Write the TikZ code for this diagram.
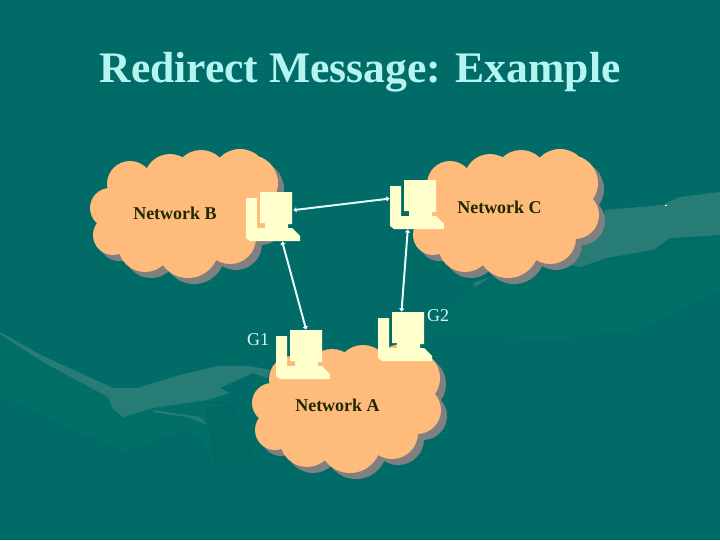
\documentclass[tikz,border=0pt]{standalone}
\usepackage{fontspec}
\setmainfont{Liberation Serif}
\usepackage{xcolor}
\usetikzlibrary{arrows.meta}
\definecolor{slidebg}{HTML}{006A66}
\definecolor{slideline}{HTML}{026D68}
\definecolor{armmid}{HTML}{026E68}
\definecolor{armdark}{HTML}{016864}
\definecolor{handlight}{HTML}{287C76}
\definecolor{cloudfill}{HTML}{FFBB7C}
\definecolor{cloudshade}{HTML}{808080}
\definecolor{pcfill}{HTML}{FFFFCC}
\definecolor{titletext}{HTML}{B4F5F2}
\definecolor{gatetext}{HTML}{D8F8F5}
\definecolor{wirecolor}{HTML}{E8FFFF}
\definecolor{nettext}{HTML}{1C2A00}
\tikzset{
  pcbox/.style={inner sep=0pt, minimum width=1.175cm, minimum height=1.225cm},
  nettag/.style={inner sep=0pt, text=nettext, font=\fontsize{12.8}{14}\selectfont\bfseries},
  gatetag/.style={inner sep=0pt, text=gatetext, font=\fontsize{12.8}{14}\selectfont},
  wire/.style={draw=wirecolor, line width=1.4pt, {Latex[length=0.8mm,width=1.5mm]}-{Latex[length=0.8mm,width=1.5mm]}}
}
% one cloud, same lobes every time
\newcommand{\lobes}{
  (130,184) circle (23) (170,180) circle (26) (201,177) circle (27) (240,177) circle (28)
  (250,183) circle (28) (255,215) circle (24) (110,208) circle (20) (113,235) circle (20)
  (145,245) circle (27) (188,247) circle (31) (230,238) circle (26) (180,210) circle (50)
  (220,210) circle (40) (135,215) circle (30)
}
\newcommand{\netcloud}[2]{
  \fill [cloudshade, shift={(#1+6,#2+6)}] \lobes;
  \fill [cloudfill, shift={(#1,#2)}] \lobes;
}
\newcommand{\netpc}[3]{
  \fill [pcfill, shift={(#2,#3)}] (260,192) -- (292,192) -- (292,224) -- (288,224) -- (288,228)
    -- (292,228) -- (300,236) -- (300,241) -- (250,241) -- (246,238) -- (246,198) -- (257,198)
    -- (257,228) -- (265,228) -- (265,223) -- (260,223) -- cycle;
  \node [pcbox] (#1) at (269.5+#2,216.5+#3) {};
}
\begin{document}
\begin{tikzpicture}[x=0.025cm, y=-0.025cm]
  \fill [slidebg] (0,0) rectangle (720,540);
  \foreach \row in {0,4,...,536}
    \fill [slideline] (0,\row) rectangle (720,\row+1.5);

  % hands in the background
  \fill [armmid] (0,397) -- (123,452) -- (145,445) -- (187,430) -- (203,440) -- (215,470) -- (260,460) -- (232,405) -- (120,395) -- (0,334) -- cycle;
  \fill [armdark] (205,408) -- (232,405) -- (258,460) -- (215,468) -- cycle;
  \fill [armmid] (427,330) -- (473,290) -- (580,267) -- (720,235) -- (720,290) -- (640,330) -- (560,340) -- (427,335) -- cycle;
  \fill [handlight] (0,332) -- (43,356) -- (113,388) -- (137,388) -- (180,375) -- (217,366) -- (250,366) -- (270,370)
    -- (267,378) -- (253,373) -- (220,388) -- (230,393) -- (207,400) -- (153,408) -- (130,415) -- (123,417)
    -- (112,408) -- (108,397) -- (43,362) -- (0,334) -- cycle;
  \fill [handlight] (153,410) -- (200,417) -- (208,425) -- (187,417) -- (153,412) -- cycle;
  \fill [handlight] (605,210) -- (663,205) -- (680,197) -- (720,192) -- (720,235) -- (670,238) -- (653,250) -- (607,258)
    -- (580,267) -- (570,265) -- (580,247) -- (600,237) -- cycle;
  \fill [handlight] (473,283) -- (490,277) -- (483,282) -- (475,287) -- cycle;
  \fill [white] (665,205) rectangle (667,206);

  \netcloud{0}{0}
  \netcloud{320}{0}
  \netcloud{162}{195}

  \netpc{gwb}{0}{0}
  \netpc{gwc}{144}{-12}
  \netpc{gone}{30}{138}
  \netpc{gtwo}{132}{120}

  \draw [wire] (gwb.15) -- (gwc.166);
  \draw [wire] (gwb.-63) -- (gone.75);
  \draw [wire] (gwc.-103) -- (gtwo.north);

  \node [inner sep=0pt, text=titletext, font=\fontsize{31}{36}\selectfont\bfseries] (title) at (360,72) {Redirect Message: Example};
  \node [nettag] (netb) at (175,213) {Network B};
  \node [nettag] (netc) at (499.5,207) {Network C};
  \node [nettag] (neta) at (337.5,405) {Network A};
  \node [gatetag] (gone label) at (258,340) {G1};
  \node [gatetag] (gtwo label) at (438,316) {G2};
\end{tikzpicture}
\end{document}
